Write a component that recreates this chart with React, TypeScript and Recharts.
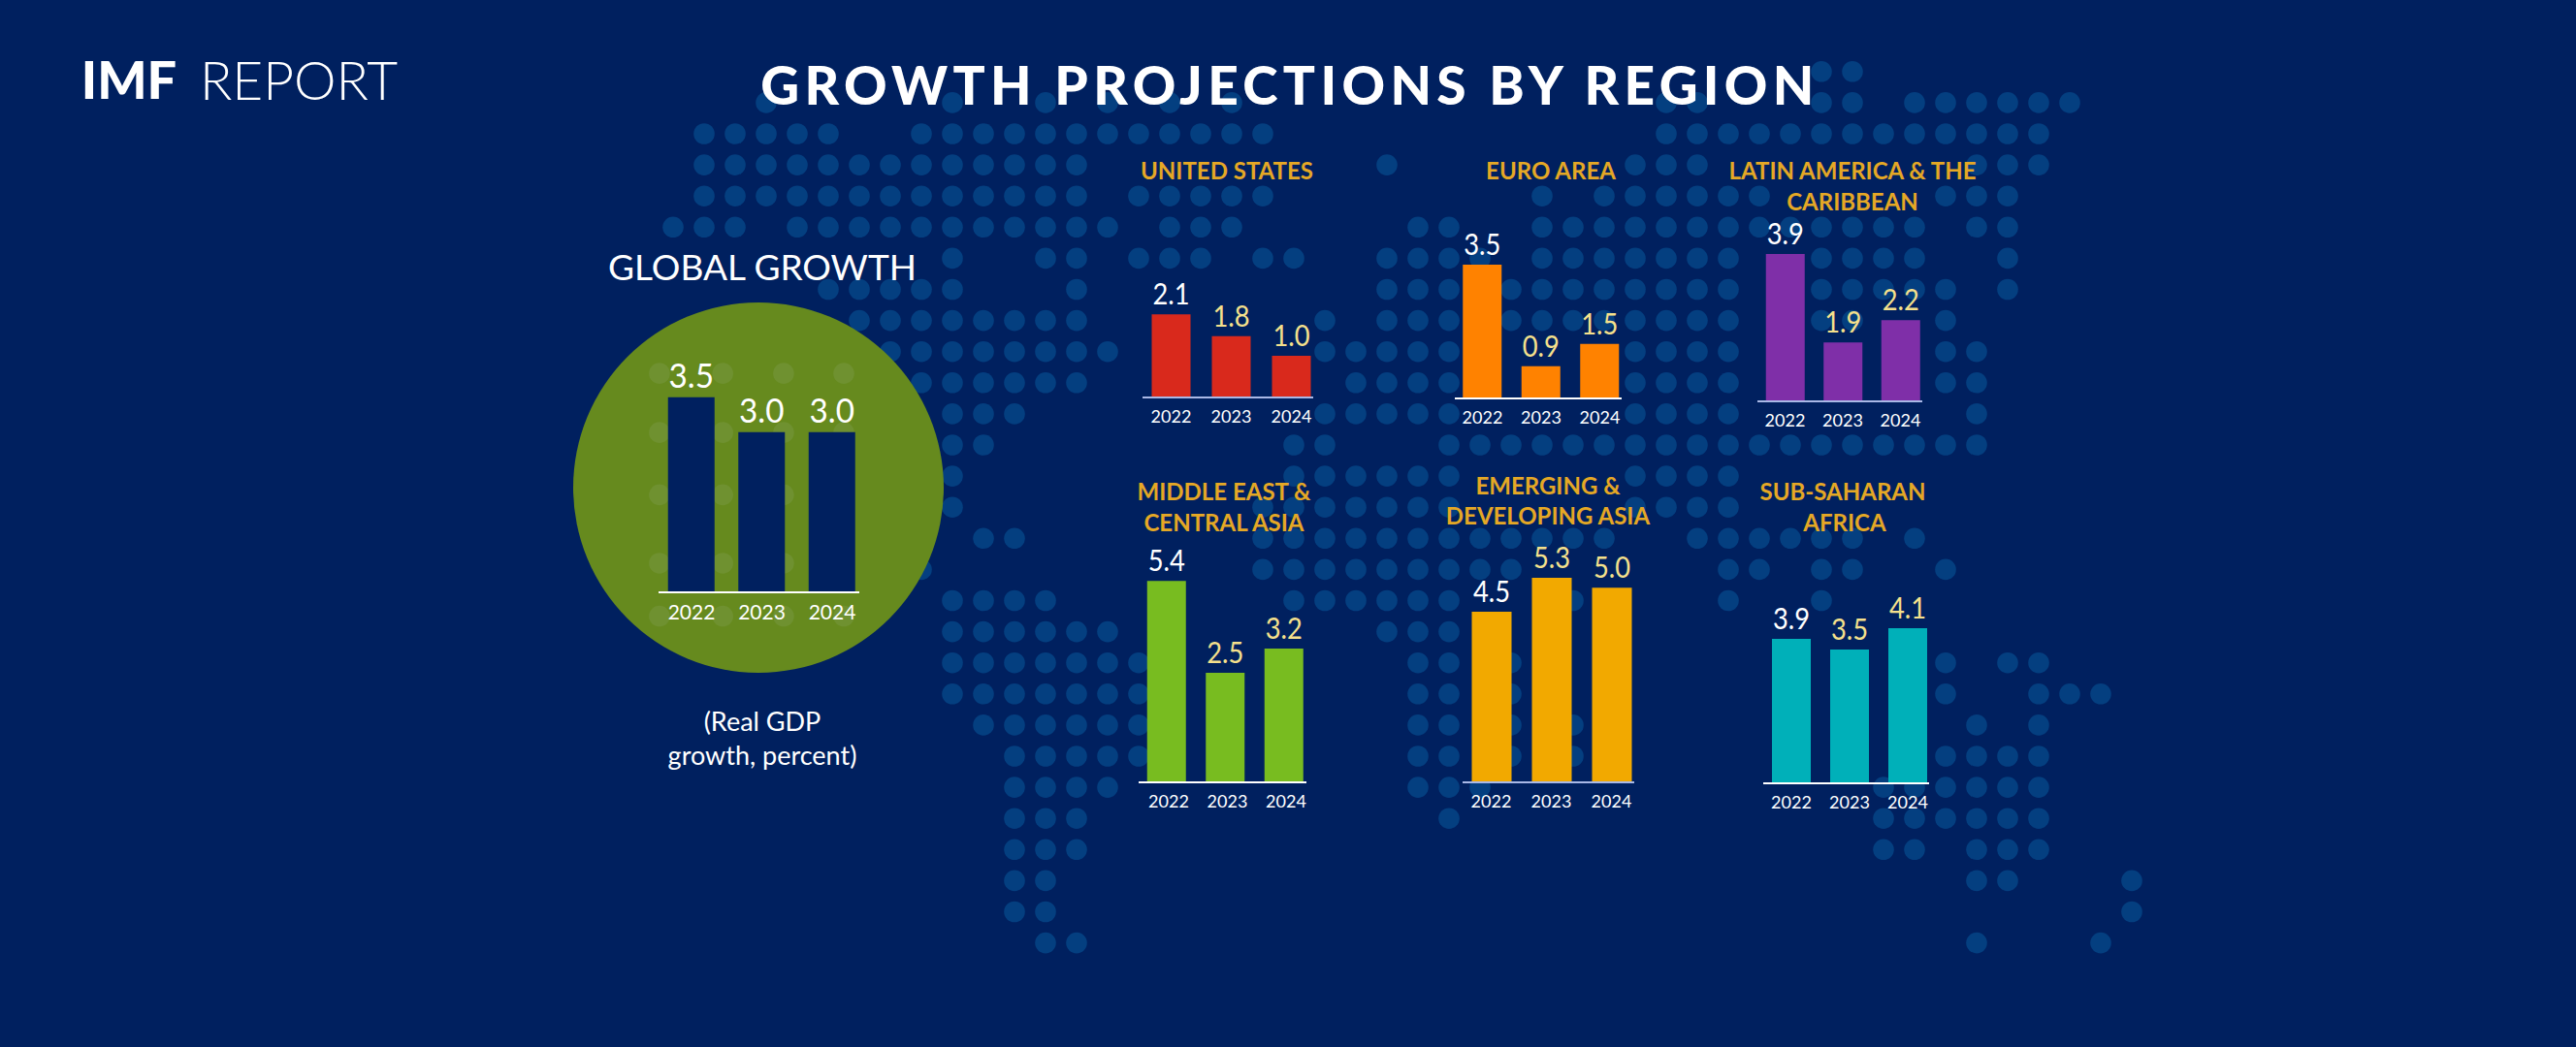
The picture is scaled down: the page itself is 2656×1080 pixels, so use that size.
import React from 'react';
import { BarChart, Bar, XAxis, YAxis, LabelList, ScatterChart, Scatter } from 'recharts';

const BG = '#00205f';
const DOT = '#043f80';
const GHOST = '#6f9130';
const GOLD = '#e5a825';
const PALE = '#f5e08c';
const FONT = 'Lato, sans-serif';

const years = ['2022', '2023', '2024'];

// printed figures
const globalPrinted = ['3.5', '3.0', '3.0'];
const usPrinted = ['2.1', '1.8', '1.0'];
const euroPrinted = ['3.5', '0.9', '1.5'];
const latamPrinted = ['3.9', '1.9', '2.2'];
const mecaPrinted = ['5.4', '2.5', '3.2'];
const asiaPrinted = ['4.5', '5.3', '5.0'];
const ssaPrinted = ['3.9', '3.5', '4.1'];

// bar lengths as drawn, the infographic is not quite to scale
const globalDrawn = [3.53, 2.9, 2.9];
const usDrawn = [2.2, 1.62, 1.1];
const euroDrawn = [3.54, 0.85, 1.44];
const latamDrawn = [3.9, 1.56, 2.15];
const mecaDrawn = [5.33, 2.9, 3.54];
const asiaDrawn = [4.51, 5.41, 5.15];
const ssaDrawn = [3.82, 3.54, 4.1];

// background map: for each row, runs of filled grid columns
const mapRows: number[][][] = [
  [[36, 37]],
  [[2, 2], [8, 8], [11, 11], [13, 13], [15, 15], [17, 17], [31, 32], [36, 37], [39, 44]],
  [[0, 4], [7, 18], [31, 43]],
  [[0, 12], [22, 22], [30, 32], [41, 43]],
  [[0, 12], [14, 18], [27, 27], [29, 34], [40, 42]],
  [[-1, 1], [3, 13], [15, 17], [23, 24], [27, 39], [41, 42]],
  [[8, 8], [11, 12], [14, 16], [18, 19], [22, 25], [27, 33], [36, 39], [42, 42]],
  [[4, 8], [12, 12], [22, 24], [26, 33], [36, 40], [42, 42]],
  [[5, 12], [20, 20], [22, 24], [26, 33], [36, 37], [40, 40]],
  [[6, 13], [20, 24], [30, 33], [40, 41]],
  [[7, 12], [21, 24], [30, 33], [40, 41]],
  [[8, 10], [20, 24], [30, 33], [41, 41]],
  [[8, 9], [19, 20], [24, 41]],
  [[8, 8], [19, 24], [30, 33]],
  [[8, 8], [18, 24], [30, 33]],
  [[9, 10], [18, 29], [32, 37], [39, 39]],
  [[7, 7], [18, 26], [33, 34], [36, 37], [40, 40]],
  [[8, 11], [19, 24], [28, 28], [33, 33], [36, 36]],
  [[8, 13], [22, 24]],
  [[8, 14], [23, 24], [26, 26], [40, 40], [42, 43]],
  [[8, 14], [23, 24], [26, 26], [40, 40], [43, 45]],
  [[9, 14], [23, 24], [26, 26], [28, 28], [41, 41], [43, 43]],
  [[10, 14], [23, 24], [26, 26], [28, 28], [40, 43]],
  [[10, 13], [23, 25], [38, 43]],
  [[10, 12], [24, 24], [38, 43]],
  [[10, 12], [38, 39], [41, 43]],
  [[10, 11], [41, 42], [46, 46]],
  [[10, 11], [46, 46]],
  [[11, 12], [41, 41], [45, 45]],
];

const mapDots = mapRows.flatMap((runs, row) =>
  runs.flatMap(([from, to]) => {
    const out: { col: number; row: number }[] = [];
    for (let col = from; col <= to; col++) out.push({ col, row: row - 2 });
    return out;
  }),
);

// the map shows faintly through the green disc, on a coarser grid
const ghostCols = [-1.44, 0.6, 2.56, 4.5];
const ghostRows = [7.7, 9.6, 11.6, 13.8, 15.5];
const ghostDots = ghostRows.flatMap((row) => ghostCols.map((col) => ({ col, row })));

function DotMap({ dots, fill }: { dots: { col: number; row: number }[]; fill: string }) {
  return (
    <div style={{ position: 'absolute', left: 0, top: 0 }}>
      <ScatterChart width={2656} height={1080} margin={{ top: 0, right: 0, bottom: 0, left: 0 }}>
        <XAxis type="number" dataKey="col" hide domain={[-726 / 32, (2656 - 726) / 32]} />
        <YAxis type="number" dataKey="row" hide reversed domain={[-138 / 32.1, (1080 - 138) / 32.1]} />
        <Scatter
          data={dots}
          isAnimationActive={false}
          shape={(s: any) => <circle cx={s.cx} cy={s.cy} r={10.8} fill={fill} />}
        />
      </ScatterChart>
    </div>
  );
}

type PanelProps = {
  printed: string[];
  drawn: number[];
  fill: string;
  axisColor: string;
  axisL: number;
  axisR: number;
  first: number; // centre of first bar
  pitch: number;
  barW: number;
  base: number;
  plotH: number;
  yMax: number;
  tickSize?: number;
  tickShift?: number;
  labelSize?: number;
  labelSqueeze?: number;
  allWhite?: boolean;
};

function Panel(p: PanelProps) {
  const data = years.map((year, i) => ({ year, drawn: p.drawn[i], printed: p.printed[i] }));
  const side = 40;
  const top = 50;
  const axisH = 44;
  const w = p.axisR - p.axisL;
  const padLeft = p.first - p.pitch / 2 - p.axisL;
  const padRight = p.axisR - (p.first + p.pitch * 2.5);
  const tickSize = p.tickSize ?? 18;
  const labelSize = p.labelSize ?? 31;
  const squeeze = p.labelSqueeze ?? 0.88;

  return (
    <div style={{ position: 'absolute', left: p.axisL - side, top: p.base - p.plotH - top }}>
      <BarChart
        width={w + side * 2}
        height={p.plotH + top + axisH}
        data={data}
        margin={{ top, right: side, bottom: 0, left: side }}
        barSize={p.barW}
      >
        <XAxis
          dataKey="year"
          height={axisH}
          interval={0}
          tickLine={false}
          padding={{ left: padLeft, right: padRight }}
          axisLine={{ stroke: p.axisColor, strokeWidth: 2 }}
          tick={{ fill: '#ffffff', fontSize: tickSize, fontFamily: FONT, dx: p.tickShift ?? 0 }}
          tickMargin={7}
        />
        <YAxis hide domain={[0, p.yMax]} />
        <Bar dataKey="drawn" fill={p.fill} isAnimationActive={false}>
          <LabelList
            dataKey="printed"
            content={(l: any) => (
              <text
                transform={`translate(${l.x + l.width / 2} ${l.y - 10}) scale(${squeeze} 1)`}
                textAnchor="middle"
                fontFamily={FONT}
                fontSize={labelSize}
                fill={p.allWhite || l.index === 0 ? '#ffffff' : PALE}
              >
                {l.value}
              </text>
            )}
          />
        </Bar>
      </BarChart>
    </div>
  );
}

function Caption({ x, y, size, color = '#fff', weight = 400, spacing = 0, children }: any) {
  return (
    <div
      style={{
        position: 'absolute',
        left: x,
        top: y,
        transform: 'translate(-50%, -50%)',
        whiteSpace: 'nowrap',
        fontFamily: FONT,
        fontSize: size,
        fontWeight: weight,
        letterSpacing: spacing,
        color,
        lineHeight: 1,
      }}
    >
      {children}
    </div>
  );
}

export default function App() {
  return (
    <div style={{ position: 'absolute', left: 0, top: 0, width: 2656, height: 1080, background: BG, overflow: 'hidden' }}>
      <DotMap dots={mapDots} fill={DOT} />

      <Caption x={133} y={82} size={54} weight={900}>IMF</Caption>
      <Caption x={308} y={82} size={55} weight={300}>REPORT</Caption>
      <Caption x={1330} y={87} size={55} weight={900} spacing={5.35}>GROWTH PROJECTIONS BY REGION</Caption>

      <Caption x={786} y={274} size={37}>GLOBAL GROWTH</Caption>
      <div style={{ position: 'absolute', left: 591, top: 312, width: 382, height: 382, borderRadius: '50%', background: '#668a1e' }} />
      <DotMap dots={ghostDots} fill={GHOST} />
      <Panel
        printed={globalPrinted} drawn={globalDrawn} fill={BG} axisColor="#ffffff"
        axisL={679} axisR={886} first={713} pitch={72.5} barW={48} base={611} plotH={228} yMax={4}
        tickSize={21} labelSize={35} labelSqueeze={0.95} allWhite
      />
      <Caption x={786} y={743} size={27}>(Real GDP</Caption>
      <Caption x={786} y={778} size={27}>growth, percent)</Caption>

      <Caption x={1265} y={176} size={24} weight={700} color={GOLD}>UNITED STATES</Caption>
      <Caption x={1599} y={176} size={24} weight={700} color={GOLD}>EURO AREA</Caption>
      <Caption x={1910} y={176} size={24} weight={700} color={GOLD}>LATIN AMERICA &amp; THE</Caption>
      <Caption x={1910} y={208} size={24} weight={700} color={GOLD}>CARIBBEAN</Caption>
      <Caption x={1262} y={507} size={24} weight={700} color={GOLD}>MIDDLE EAST &amp;</Caption>
      <Caption x={1262} y={539} size={24} weight={700} color={GOLD}>CENTRAL ASIA</Caption>
      <Caption x={1596} y={501} size={24} weight={700} color={GOLD}>EMERGING &amp;</Caption>
      <Caption x={1596} y={532} size={24} weight={700} color={GOLD}>DEVELOPING ASIA</Caption>
      <Caption x={1900} y={507} size={24} weight={700} color={GOLD}>SUB-SAHARAN</Caption>
      <Caption x={1902} y={539} size={24} weight={700} color={GOLD}>AFRICA</Caption>

      <Panel printed={usPrinted} drawn={usDrawn} fill="#d9291c" axisColor="#a9b8e6"
        axisL={1178} axisR={1354} first={1207.5} pitch={62} barW={40} base={410} plotH={234} yMax={6} />
      <Panel printed={euroPrinted} drawn={euroDrawn} fill="#ff8200" axisColor="#ffffff"
        axisL={1500} axisR={1672} first={1528.5} pitch={60.5} barW={40} base={411} plotH={234} yMax={6} />
      <Panel printed={latamPrinted} drawn={latamDrawn} fill="#7f2fa8" axisColor="#a9b8e6"
        axisL={1812} axisR={1982} first={1840.5} pitch={59.5} barW={40} base={414} plotH={234} yMax={6} />
      <Panel printed={mecaPrinted} drawn={mecaDrawn} fill="#78bc20" axisColor="#ffffff"
        axisL={1174} axisR={1347} first={1203} pitch={60.5} barW={40} base={807} plotH={234} yMax={6} tickShift={2} />
      <Panel printed={asiaPrinted} drawn={asiaDrawn} fill="#f2a900" axisColor="#a9b8e6"
        axisL={1508} axisR={1685} first={1537.5} pitch={62} barW={41} base={807} plotH={234} yMax={6} />
      <Panel printed={ssaPrinted} drawn={ssaDrawn} fill="#00b0b9" axisColor="#ffffff"
        axisL={1818} axisR={1989} first={1847} pitch={60} barW={40} base={808} plotH={234} yMax={6} />
    </div>
  );
}
